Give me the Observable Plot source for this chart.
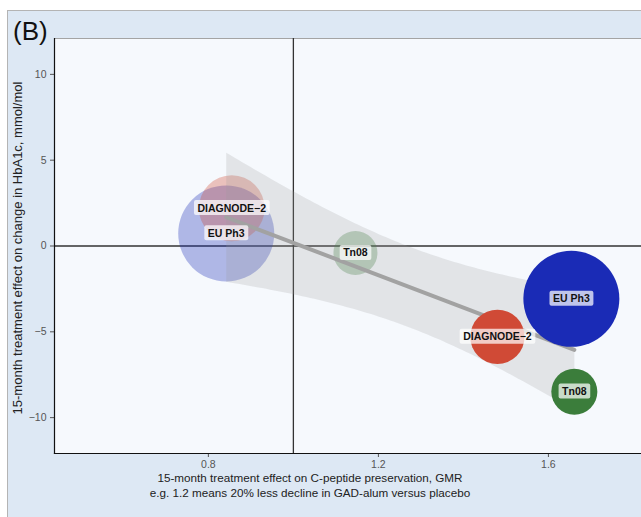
<!DOCTYPE html>
<html><head><meta charset="utf-8">
<script src="https://cdn.jsdelivr.net/npm/d3@7"></script>
<script src="https://cdn.jsdelivr.net/npm/@observablehq/plot@0.6"></script>
<style>
body{margin:0;background:#fff;font-family:"Liberation Sans",Arial,sans-serif;}
#fig{position:relative;width:641px;height:517px;overflow:hidden;}
#box{position:absolute;left:7px;top:10px;width:700px;height:600px;background:#dde8f4;border:1px solid #b4b4b4;box-sizing:border-box;}
#chart{position:absolute;left:0;top:0;}
#tag{position:absolute;left:13px;top:16px;font-size:26px;line-height:30px;color:#111;}
#xtitle{position:absolute;left:0;width:620px;top:470px;text-align:center;font-size:11.7px;line-height:15px;color:#222;}
#ytitle{position:absolute;left:-182px;top:240px;width:400px;height:16px;line-height:16px;text-align:center;font-size:13px;color:#222;transform:rotate(-90deg);transform-origin:50% 50%;}
</style></head>
<body>
<div id="fig">
  <div id="box"></div>
  <div id="chart"></div>
  <div id="tag">(B)</div>
  <div id="ytitle">15-month treatment effect on change in HbA1c, mmol/mol</div>
  <div id="xtitle">15-month treatment effect on C-peptide preservation, GMR<br>e.g. 1.2 means 20% less decline in GAD-alum versus placebo</div>
</div>
<script>
// ---- data ----
const trials      = ["EU Ph3", "DIAGNODE−2", "Tn08", "EU Ph3", "DIAGNODE−2", "Tn08"];
const gmr         = [0.842, 0.855, 1.146, 1.654, 1.480, 1.661];
const hba1c       = [0.73, 2.20, -0.41, -3.08, -5.29, -8.49];
const weight      = [100, 47, 21, 100, 32, 23];
const highlighted = [false, false, false, true, true, true];

const trialNames  = ["EU Ph3", "DIAGNODE−2", "Tn08"];
const trialColors = ["#1a2bb6", "#d04a36", "#3b7d3b"];

const xTicks = [0.8, 1.2, 1.6];
const yTicks = [-10, -5, 0, 5, 10];
const refX = [1];
const refY = [0];

const data = trials.map((t, i) => ({trial: t, x: gmr[i], y: hba1c[i], w: weight[i], hi: highlighted[i]}));

const chart = Plot.plot({
  width: 641, height: 517,
  marginLeft: 54, marginTop: 38, marginRight: 0, marginBottom: 64,
  style: {background: "transparent", fontFamily: "Liberation Sans, Arial, sans-serif", fontSize: "10.5px", overflow: "visible"},
  x: {domain: [0.438, 1.819]},
  y: {domain: [-12.09, 12.09]},
  r: {type: "sqrt", domain: [0, 100], range: [0, 48]},
  color: {domain: trialNames, range: trialColors},
  marks: [
    Plot.frame({fill: "#f6f9fd"}),
    Plot.frame({anchor: "top", stroke: "#a4a4a4"}),
    Plot.ruleX(refX, {stroke: "#333", strokeWidth: 1.3}),
    Plot.ruleY(refY, {stroke: "#333", strokeWidth: 1.3}),
    Plot.dot(data.filter(d => !d.hi), {x: "x", y: "y", r: "w", fill: "trial", fillOpacity: 0.32}),
    Plot.linearRegressionY(data, {x: "x", y: "y", stroke: "#a2a2a2", strokeWidth: 4, fill: "#9c9c9c", fillOpacity: 0.22}),
    Plot.dot(data.filter(d => d.hi), {x: "x", y: "y", r: "w", fill: "trial"}),
    Plot.text(data, {x: "x", y: "y", text: "trial", fontWeight: "bold", fontSize: 10.5, fill: "#111", className: "lbl"}),
    Plot.axisX({ticks: xTicks, tickFormat: d => d.toFixed(1), tickSize: 4, tickPadding: 3, stroke: "#555", color: "#555", label: null}),
    Plot.axisY({ticks: yTicks, tickSize: 4, tickPadding: 4, stroke: "#555", color: "#555", label: null}),
    Plot.frame({anchor: "left", stroke: "#111", strokeWidth: 1.2}),
    Plot.frame({anchor: "bottom", stroke: "#111", strokeWidth: 1.2})
  ]
});
document.getElementById("chart").append(chart);

// label boxes behind the text (like geom_label)
const ns = "http://www.w3.org/2000/svg";
chart.querySelectorAll("g.lbl text").forEach(t => {
  const b = t.getBBox();
  const r = document.createElementNS(ns, "rect");
  r.setAttribute("x", b.x - 3.5);
  r.setAttribute("y", b.y - 1.5);
  r.setAttribute("width", b.width + 7);
  r.setAttribute("height", b.height + 3);
  r.setAttribute("rx", 2);
  r.setAttribute("fill", "#fff");
  r.setAttribute("fill-opacity", 0.72);
  if (t.getAttribute("transform")) r.setAttribute("transform", t.getAttribute("transform"));
  t.parentNode.insertBefore(r, t);
});
</script>
</body></html>
